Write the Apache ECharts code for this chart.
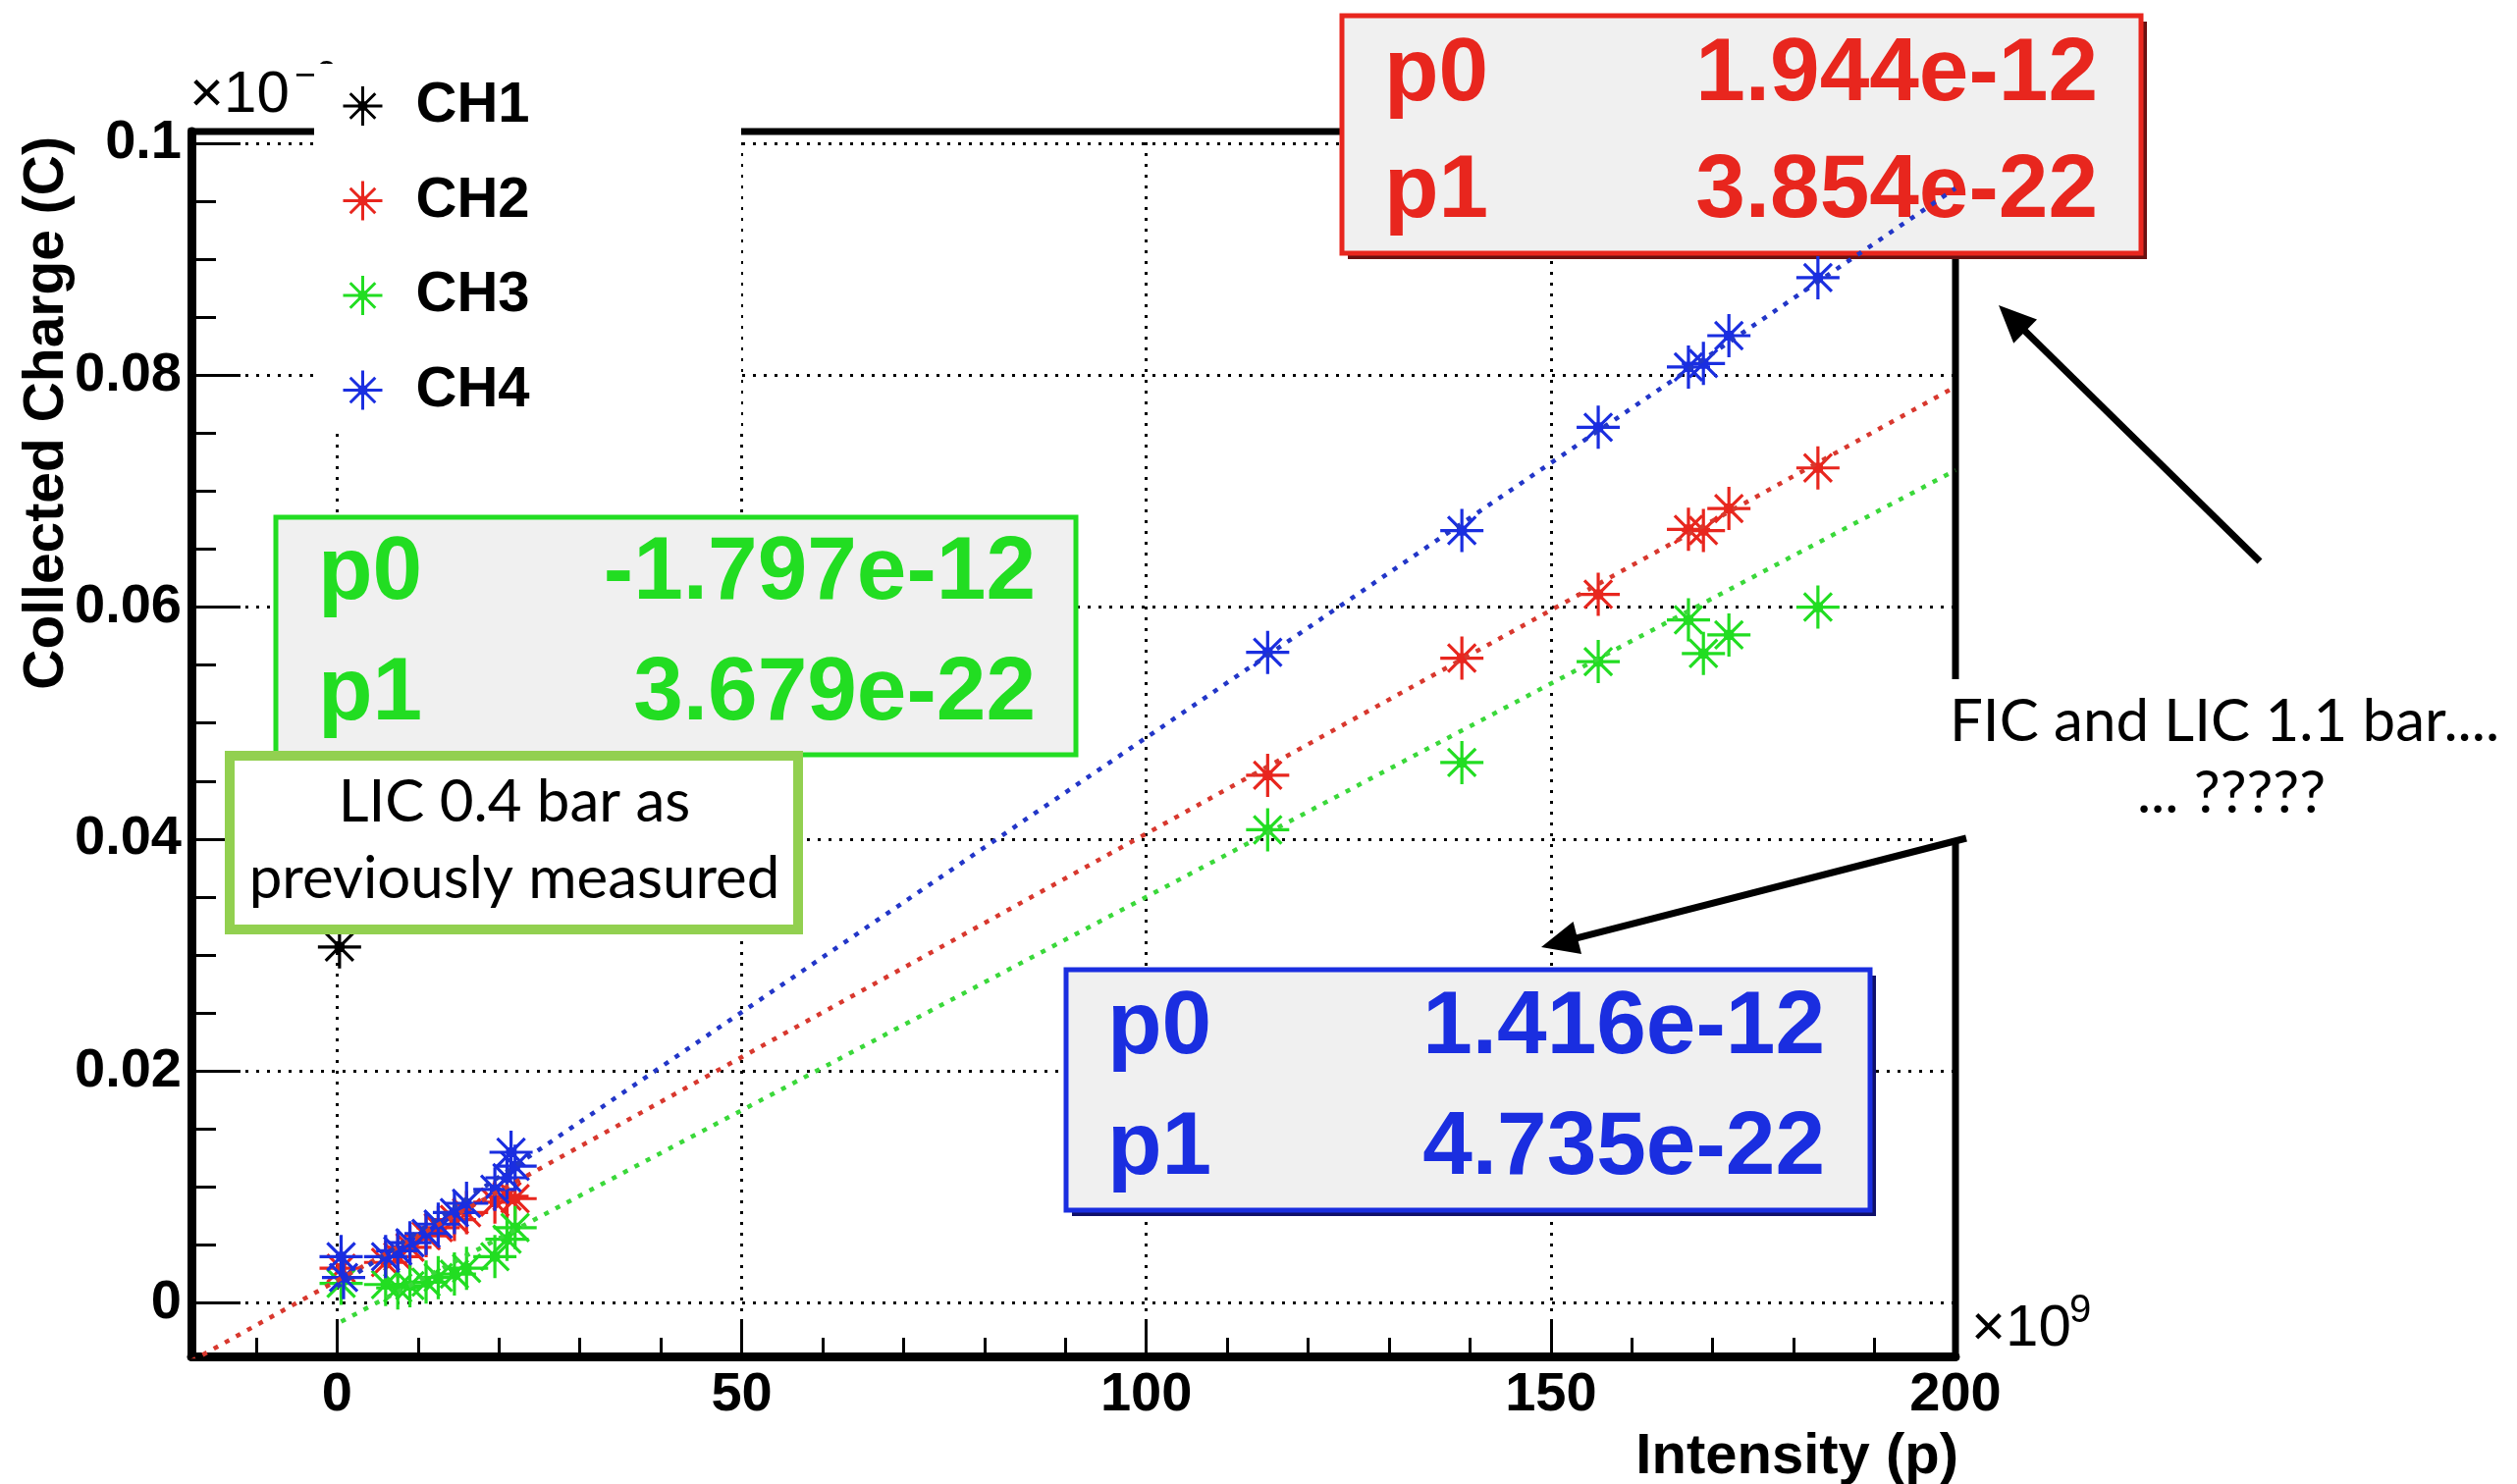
<!DOCTYPE html>
<html><head><meta charset="utf-8">
<script src="https://cdn.jsdelivr.net/npm/echarts@6/dist/echarts.min.js"></script>
<style>html,body{margin:0;padding:0;background:#fff}#c{width:2564px;height:1512px}</style>
</head><body><div id="c"></div>
<script>
// ---------------- data ----------------
const channels = ['CH1', 'CH2', 'CH3', 'CH4'];
const ch1Intensity = [0.3];
const ch1Charge = [0.0307];
const ch2Intensity = [0.5, 6, 7.5, 9, 11, 12.5, 14.5, 16, 19.5, 21, 22, 115.0, 139.0, 155.85, 167.0, 168.85, 172.0, 183.0];
const ch2Charge = [0.0030, 0.0035, 0.0040, 0.0048, 0.0058, 0.0065, 0.0072, 0.0078, 0.0087, 0.0092, 0.0090, 0.0455, 0.0556, 0.0611, 0.0667, 0.0666, 0.0685, 0.0720];
const ch3Intensity = [0.5, 6, 7.5, 9, 11, 12.5, 14.5, 16, 19.5, 21, 22, 115.0, 139.0, 155.85, 167.0, 168.85, 172.0, 183.0];
const ch3Charge = [0.0017, 0.0016, 0.0013, 0.0015, 0.0018, 0.0022, 0.0025, 0.0030, 0.0040, 0.0055, 0.0065, 0.0408, 0.0466, 0.0553, 0.0589, 0.0560, 0.0576, 0.0600];
const ch4Intensity = [0.5, 0.8, 6, 7.5, 9, 11, 12.5, 14.5, 16, 19.5, 21, 21.5, 22, 115.0, 139.0, 155.85, 167.0, 168.85, 172.0, 183.0];
const ch4Charge = [0.0040, 0.0022, 0.0040, 0.0045, 0.0052, 0.0060, 0.0068, 0.0078, 0.0086, 0.0098, 0.0108, 0.0130, 0.0118, 0.0561, 0.0666, 0.0755, 0.0807, 0.0810, 0.0834, 0.0884];
// fitted straight lines (end points)
const fit2X = [-18, 200];  const fit2Y = [-0.0050, 0.0790];
const fit3X = [0.5, 200];  const fit3Y = [-0.0016, 0.0718];
const fit4X = [0, 200];    const fit4Y = [0.0014, 0.0961];
// fit parameter boxes
const fitLabels = ['p0', 'p1'];
const fitCH2 = ['1.944e-12', '3.854e-22'];
const fitCH3 = ['-1.797e-12', '3.679e-22'];
const fitCH4 = ['1.416e-12', '4.735e-22'];
// axes
const xRange = [-18, 200];
const yRange = [-0.0046, 0.101];
const xMajorTicks = [0, 50, 100, 150, 200];
const xMinorTicks = [-10, 10, 20, 30, 40, 60, 70, 80, 90, 110, 120, 130, 140, 160, 170, 180, 190];
const yMajorTicks = [0, 0.02, 0.04, 0.06, 0.08, 0.1];
const yMinorTicks = [0.005, 0.01, 0.015, 0.025, 0.03, 0.035, 0.045, 0.05, 0.055, 0.065, 0.07, 0.075, 0.085, 0.09, 0.095];
const xTitle = 'Intensity (p)';
const yTitle = 'Collected Charge (C)';
const noteLeft = ['LIC 0.4 bar as', 'previously measured'];
const noteRight = ['FIC and LIC 1.1 bar....', '... ?????'];

// ---------------- styling ----------------
const RED = '#e8261e', GREEN = '#22dd22', BLUE = '#1a2ee0', BLACK = '#000';
const RED_L = '#d8382e', GREEN_L = '#3ad83a', BLUE_L = '#2236c8';
const RF = '"Liberation Sans", Arial, Helvetica, sans-serif';
const SF = 'Lato, "Open Sans", sans-serif';
const star = 'path://M0,50L100,50M50,0L50,100M18,18L82,82M82,18L18,82M42,42L58,42L58,58L42,58Z';
const zip = (a, b) => a.map((v, i) => [v, b[i]]);

function scatter(name, xs, ys, color) {
  return { type: 'scatter', name, data: zip(xs, ys), symbol: star, symbolSize: 44, z: 3,
    itemStyle: { color, borderColor: color, borderWidth: 3.2, opacity: 1 }, silent: true };
}
function fitLine(name, xs, ys, color) {
  return { type: 'line', name, data: zip(xs, ys), symbol: 'none', showSymbol: false, z: 4, silent: true,
    lineStyle: { color, width: 4.5, type: [5, 8] }, clip: true };
}
function txt(x, y, text, font, fill, align, valign, z, extra) {
  return Object.assign({ type: 'text', z, x, y, style: { text, font, fill, align, verticalAlign: valign, textAlign: align, textVerticalAlign: valign } }, extra || {});
}
function statBox(x, y, w, h, color, shadow, vals, lx, rx, y1, y2, z) {
  const els = [];
  if (shadow) els.push({ type: 'rect', z, shape: { x: x + 6, y: y + 6, width: w, height: h }, style: { fill: shadow } });
  els.push({ type: 'rect', z, shape: { x, y, width: w, height: h }, style: { fill: '#f0f0f0', stroke: color, lineWidth: 5 } });
  [y1, y2].forEach((yy, i) => {
    els.push(txt(lx, yy, fitLabels[i], 'bold 91px ' + RF, color, 'left', 'middle', z));
    els.push(txt(rx, yy, vals[i], 'bold 91px ' + RF, color, 'right', 'middle', z));
  });
  return els;
}
function arrow(x1, y1, x2, y2, z) {
  const dx = x2 - x1, dy = y2 - y1, L = Math.hypot(dx, dy), ux = dx / L, uy = dy / L;
  const hl = 38, hw = 17, bx = x2 - ux * hl, by = y2 - uy * hl, nx = -uy, ny = ux;
  return [
    { type: 'line', z, shape: { x1, y1, x2: bx + ux * 4, y2: by + uy * 4 }, style: { stroke: '#000', lineWidth: 7 } },
    { type: 'polygon', z, shape: { points: [[x2, y2], [bx + nx * hw, by + ny * hw], [bx - nx * hw, by - ny * hw]] }, style: { fill: '#000' } }
  ];
}

const graphics = [].concat(
  [txt(193, 127, '×10', '60px ' + RF, '#000', 'left', 'bottom', 4),
   txt(300, 98, '−9', '38px ' + RF, '#000', 'left', 'bottom', 4),
   { type: 'rect', z: 5, shape: { x: 320, y: 65, width: 435, height: 375 }, style: { fill: '#fff' } },
   txt(2008, 1384, '×10', '60px ' + RF, '#000', 'left', 'bottom', 4),
   txt(2108, 1356, '9', '40px ' + RF, '#000', 'left', 'bottom', 4),
   txt(48, 139, yTitle, 'bold 57px ' + RF, '#000', 'right', 'middle', 4, { rotation: Math.PI / 2 })],
  statBox(1367, 16, 814, 242, RED, '#6a1010', fitCH2, 1410, 2137, 77, 196, 1),
  statBox(281, 527, 815, 242, GREEN, null, fitCH3, 324, 1055, 585, 708, 6),
  statBox(1086, 988, 819, 245, BLUE, '#10106a', fitCH4, 1128, 1859, 1048, 1171, 6),
  [{ type: 'rect', z: 7, shape: { x: 234, y: 770, width: 579, height: 177 }, style: { fill: '#fff', stroke: '#92d050', lineWidth: 10 } },
   txt(524, 818, noteLeft[0], '60px ' + SF, '#000', 'center', 'middle', 7),
   txt(524, 896, noteLeft[1], '60px ' + SF, '#000', 'center', 'middle', 7),
   { type: 'rect', z: 6, shape: { x: 1976, y: 692, width: 588, height: 165 }, style: { fill: '#fff' } },
   txt(2266, 736, noteRight[0], '60px ' + SF, '#000', 'center', 'middle', 7),
   txt(2273, 809, noteRight[1], '60px ' + SF, '#000', 'center', 'middle', 7)],
  arrow(2302, 572, 2036, 311, 8),
  arrow(2003, 854, 1570, 965, 8)
);

const isStep = (v, s) => Math.abs(v / s - Math.round(v / s)) < 1e-6;
const tickLine = { color: '#000', width: 3 };
const gridLine = { show: true, lineStyle: { color: '#000', width: 3, type: [3, 8] } };
const labelFont = { fontFamily: RF, fontWeight: 'bold', fontSize: 56, color: '#000' };

const option = {
  animation: false,
  backgroundColor: '#fff',
  grid: { left: 195, right: 572, top: 134, bottom: 130, show: true, borderColor: '#000', borderWidth: 7,
          containLabel: false, outerBoundsMode: 'none' },
  legend: {
    data: channels, orient: 'vertical', left: 343, top: 73, itemWidth: 40, itemHeight: 40, itemGap: 36.5,
    icon: star, selectedMode: false, z: 10,
    itemStyle: { borderWidth: 3 },
    textStyle: { fontFamily: RF, fontWeight: 'bold', fontSize: 58, color: '#000', lineHeight: 60, padding: [0, 0, 0, 29] }
  },
  xAxis: [{
    type: 'value', min: xRange[0], max: xRange[1], position: 'bottom',
    name: xTitle, nameLocation: 'end', nameGap: 3,
    nameTextStyle: { fontFamily: RF, fontWeight: 'bold', fontSize: 58, color: '#000', align: 'right', verticalAlign: 'top', padding: [74, 0, 0, 0] },
    axisLine: { show: true, onZero: false, lineStyle: { color: '#000', width: 9 } },
    axisTick: { show: true, inside: true, length: 38, lineStyle: tickLine, customValues: xMajorTicks },
    minorTick: { show: false },
    axisLabel: Object.assign({ margin: 12, customValues: xMajorTicks,
      formatter: v => isStep(v, 50) ? String(Math.round(v)) : '' }, labelFont),
    splitLine: gridLine
  }, {
    type: 'value', min: xRange[0], max: xRange[1], position: 'bottom', offset: 0,
    axisLine: { show: false, onZero: false },
    axisTick: { show: true, inside: true, length: 19, lineStyle: tickLine, customValues: xMinorTicks },
    axisLabel: { show: false }, splitLine: { show: false }, minorTick: { show: false }
  }],
  yAxis: [{
    type: 'value', min: yRange[0], max: yRange[1], position: 'left',
    axisLine: { show: true, onZero: false, lineStyle: { color: '#000', width: 9 } },
    axisTick: { show: true, inside: true, length: 50, lineStyle: tickLine, customValues: yMajorTicks },
    minorTick: { show: false },
    axisLabel: Object.assign({ margin: 10, customValues: yMajorTicks,
      formatter: v => { if (!isStep(v, 0.02)) return ''; const r = Math.round(v / 0.02) * 0.02; return r === 0 ? '0' : String(parseFloat(r.toFixed(2))); } }, labelFont),
    splitLine: gridLine
  }, {
    type: 'value', min: yRange[0], max: yRange[1], position: 'left', offset: 0,
    axisLine: { show: false, onZero: false },
    axisTick: { show: true, inside: true, length: 25, lineStyle: tickLine, customValues: yMinorTicks },
    axisLabel: { show: false }, splitLine: { show: false }, minorTick: { show: false }
  }],
  series: [
    scatter('CH1', ch1Intensity, ch1Charge, BLACK),
    scatter('CH2', ch2Intensity, ch2Charge, RED),
    scatter('CH3', ch3Intensity, ch3Charge, GREEN),
    scatter('CH4', ch4Intensity, ch4Charge, BLUE),
    fitLine('fit CH2', fit2X, fit2Y, RED_L),
    fitLine('fit CH3', fit3X, fit3Y, GREEN_L),
    fitLine('fit CH4', fit4X, fit4Y, BLUE_L)
  ],
  graphic: { elements: graphics }
};
const chart = echarts.init(document.getElementById('c'), null, { renderer: 'canvas' });
chart.setOption(option);
</script></body></html>
